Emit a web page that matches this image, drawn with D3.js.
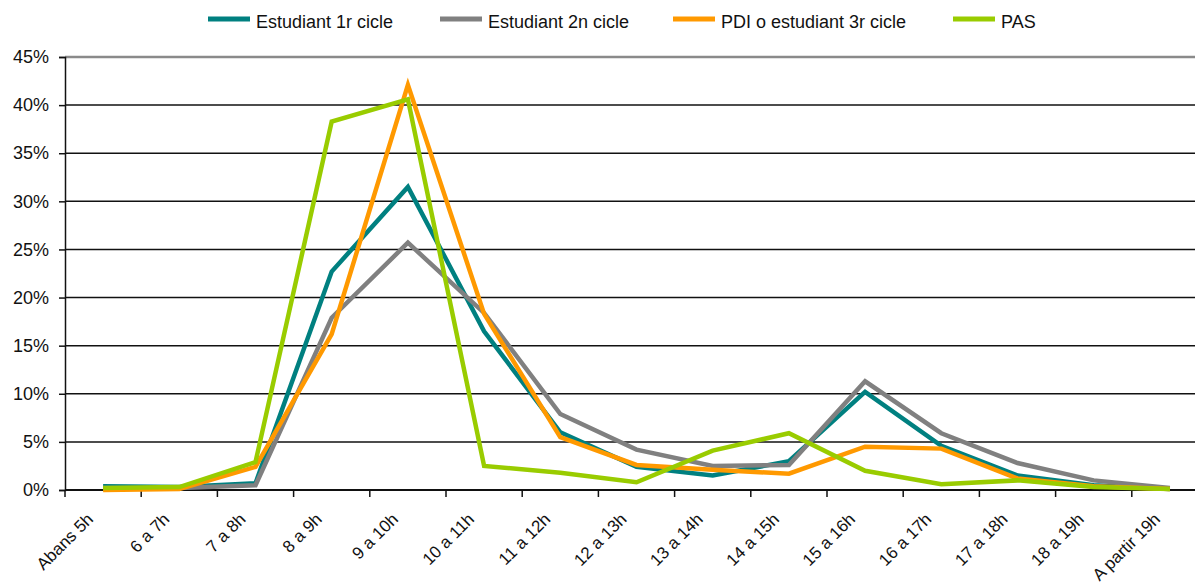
<!DOCTYPE html>
<html>
<head>
<meta charset="utf-8">
<script src="https://cdn.jsdelivr.net/npm/d3@7/dist/d3.min.js"></script>
<style>
  html, body { margin: 0; padding: 0; background: #fff; overflow: hidden; }
  svg { display: block; font-family: "Liberation Sans", Arial, sans-serif; }
</style>
</head>
<body>
<svg id="chart" width="1195" height="588"></svg>
<script>
// Time slots (hour of arrival)
const categories = ["Abans 5h", "6 a 7h", "7 a 8h", "8 a 9h", "9 a 10h", "10 a 11h", "11 a 12h",
  "12 a 13h", "13 a 14h", "14 a 15h", "15 a 16h", "16 a 17h", "17 a 18h", "18 a 19h", "A partir 19h"];

// Percentage of each group per time slot
const estudiant1r = [0.4, 0.3, 0.7, 22.7, 31.5, 16.5, 6.0, 2.4, 1.5, 3.0, 10.2, 4.6, 1.5, 0.5, 0.1];
const estudiant2n = [0.2, 0.2, 0.5, 17.9, 25.7, 18.4, 7.9, 4.2, 2.5, 2.6, 11.3, 5.9, 2.8, 1.0, 0.2];
const pdi3r       = [0.0, 0.1, 2.4, 16.2, 42.1, 18.3, 5.5, 2.6, 2.1, 1.7, 4.5, 4.3, 1.2, 0.4, 0.1];
const pas         = [0.2, 0.3, 2.9, 38.3, 40.6, 2.5, 1.8, 0.8, 4.1, 5.9, 2.0, 0.6, 1.0, 0.3, 0.1];

const seriesNames = ["Estudiant 1r cicle", "Estudiant 2n cicle", "PDI o estudiant 3r cicle", "PAS"];
const seriesColors = ["#008080", "#808080", "#FF9900", "#99CC00"];
const yTicks = [0, 5, 10, 15, 20, 25, 30, 35, 40, 45];

const series = [estudiant1r, estudiant2n, pdi3r, pas].map((values, i) => ({
  name: seriesNames[i], color: seriesColors[i], values
}));

const svg = d3.select("#chart");
const plotLeft = 65, plotRight = 1208, plotTop = 57, plotBottom = 490;

const x = d3.scaleBand().domain(categories).range([plotLeft, plotRight]).padding(0);
const y = d3.scaleLinear().domain([0, 45]).range([plotBottom, plotTop]);

// Horizontal gridlines
svg.append("g")
  .selectAll("line")
  .data(yTicks.filter(t => t > 0))
  .join("line")
  .attr("x1", plotLeft).attr("x2", plotRight)
  .attr("y1", d => y(d)).attr("y2", d => y(d))
  .attr("stroke", d => d === 45 ? "#8a8a8a" : "#111")
  .attr("stroke-width", d => d === 45 ? 2.5 : 1.5);

// Y axis
const yAxis = svg.append("g")
  .attr("transform", `translate(${plotLeft},0)`)
  .call(d3.axisLeft(y).tickValues(yTicks).tickSize(6).tickPadding(10).tickFormat(d => d + "%"));
yAxis.select(".domain").attr("stroke", "#111").attr("stroke-width", 1.5);
yAxis.selectAll(".tick line").attr("stroke", "#111").attr("stroke-width", 1.5);
yAxis.selectAll(".tick text").attr("font-size", 18).attr("fill", "#111")
  .attr("font-family", "'Liberation Sans', Arial, sans-serif");

// X axis: ticks at the boundaries between time slots
const boundaries = d3.range(categories.length + 1).map(i => plotLeft + i * x.step());
const xAxis = svg.append("g");
xAxis.append("line")
  .attr("x1", plotLeft).attr("x2", plotRight)
  .attr("y1", plotBottom).attr("y2", plotBottom)
  .attr("stroke", "#111").attr("stroke-width", 2);
xAxis.selectAll("line.tick")
  .data(boundaries)
  .join("line")
  .attr("class", "tick")
  .attr("x1", d => d).attr("x2", d => d)
  .attr("y1", plotBottom).attr("y2", plotBottom + 7)
  .attr("stroke", "#111").attr("stroke-width", 1.5);
xAxis.selectAll("text")
  .data(categories)
  .join("text")
  .attr("transform", d => `translate(${x(d) + x.bandwidth() / 2 - 13},${plotBottom + 26}) rotate(-45)`)
  .attr("text-anchor", "end")
  .attr("dy", "0.35em")
  .attr("font-size", 17)
  .attr("fill", "#111")
  .text(d => d);

// Series lines
const line = d3.line()
  .x((d, i) => x(categories[i]) + x.bandwidth() / 2)
  .y(d => y(d));

svg.append("g")
  .selectAll("path")
  .data(series)
  .join("path")
  .attr("d", d => line(d.values))
  .attr("fill", "none")
  .attr("stroke", d => d.color)
  .attr("stroke-width", 4.5)
  .attr("stroke-linejoin", "miter")
  .attr("stroke-linecap", "butt");

// Legend
const legendX = [208, 440, 673, 953];
const legend = svg.append("g")
  .selectAll("g")
  .data(series)
  .join("g")
  .attr("transform", (d, i) => `translate(${legendX[i]},19)`);
legend.append("line")
  .attr("x1", 0).attr("x2", 42)
  .attr("y1", 0).attr("y2", 0)
  .attr("stroke", d => d.color)
  .attr("stroke-width", 5);
legend.append("text")
  .attr("x", 48)
  .attr("y", 9)
  .attr("font-size", 18)
  .attr("fill", "#111")
  .text(d => d.name);
</script>
</body>
</html>
